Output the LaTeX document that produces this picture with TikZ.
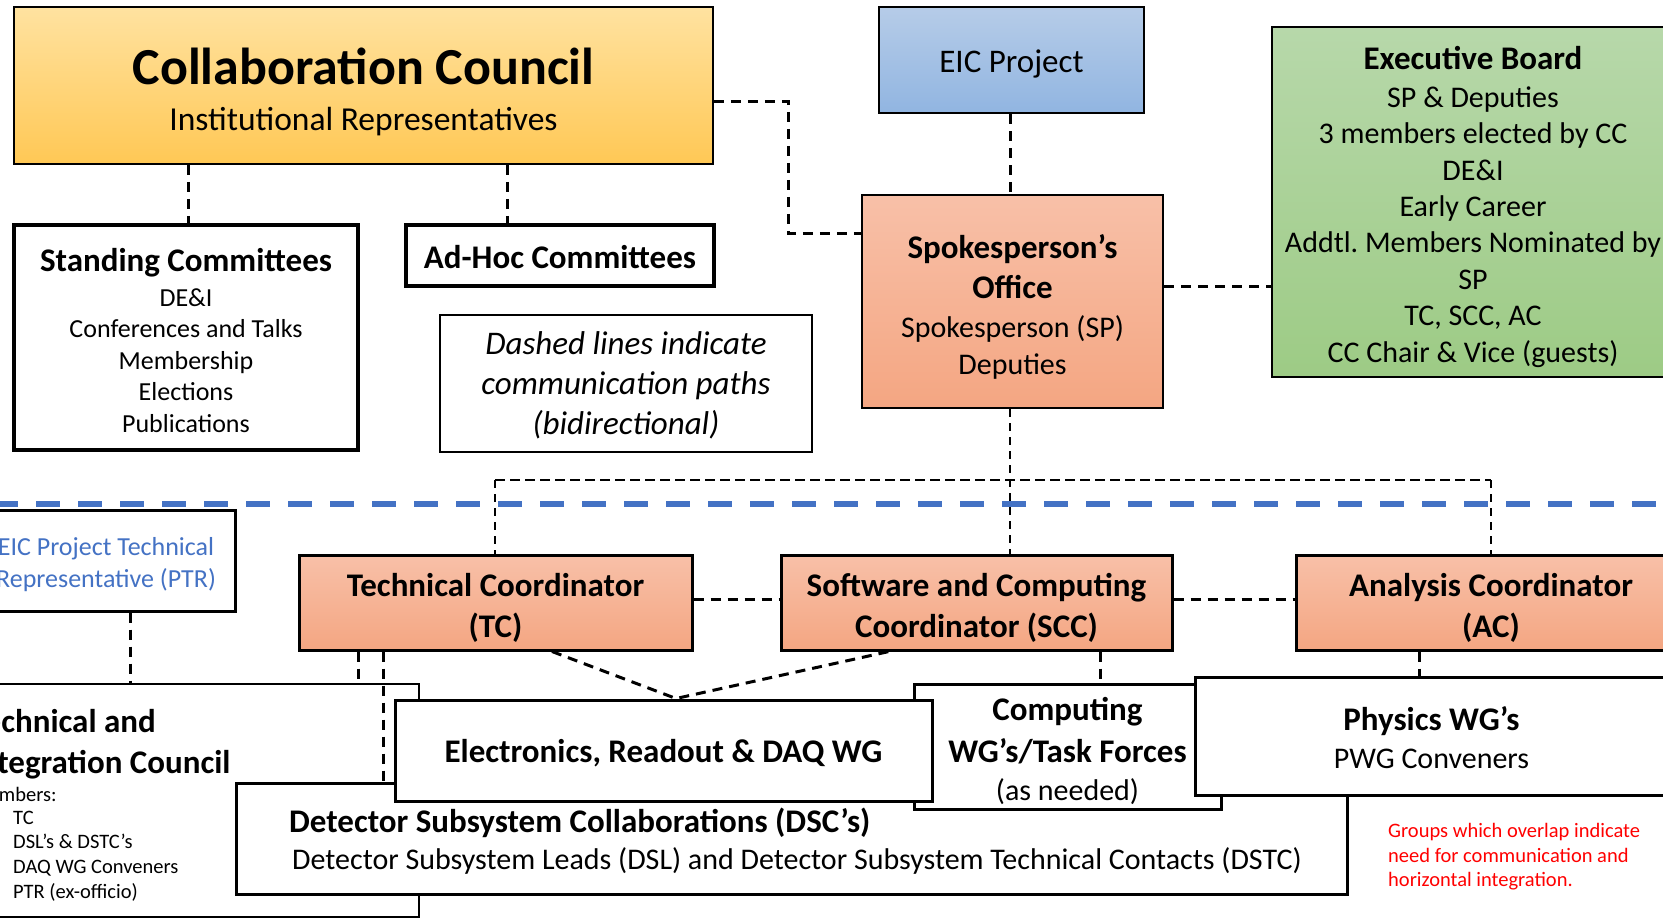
\documentclass[tikz,border=0pt]{standalone}
\usepackage{fontspec}
\setmainfont{Carlito}
\frenchspacing
\usetikzlibrary{calc}
\definecolor{ccTop}{RGB}{255,226,160}
\definecolor{ccBot}{RGB}{255,200,85}
\definecolor{eicTop}{RGB}{182,204,232}
\definecolor{eicBot}{RGB}{145,181,225}
\definecolor{ebTop}{RGB}{183,216,170}
\definecolor{ebBot}{RGB}{157,203,133}
\definecolor{orTop}{RGB}{248,192,168}
\definecolor{orBot}{RGB}{244,166,130}
\definecolor{ptrBlue}{RGB}{68,114,196}
\definecolor{noteRed}{RGB}{255,0,0}
\tikzset{
 box/.style={draw=black, rectangle, inner sep=0pt, line width=3pt},
 conn/.style={black, line width=3pt, dash pattern=on 10pt off 7pt},
 thinconn/.style={black, line width=2.5pt, dash pattern=on 8pt off 6pt},
 bus/.style={black, line width=2.5pt, dash pattern=on 10pt off 5pt},
 bluedash/.style={ptrBlue, line width=6pt, dash pattern=on 24pt off 18pt, dash phase=6pt},
 boldtt/.style={font=\fontsize{33}{41}\selectfont\bfseries},
 txt/.style={inner sep=0pt, align=center},
}
\begin{document}
\begin{tikzpicture}[x=1pt,y=-1pt]
\useasboundingbox (0,0) rectangle (1663,919);
\clip (0,0) rectangle (1663,919);

% upper part
\node[box, line width=1.5pt, top color=ccTop, bottom color=ccBot, minimum width=699pt, minimum height=157pt] (cc) at (363.5,85.5) {};
\node[txt, font=\fontsize{33.5}{46}\selectfont] (cct) at (363.5,91.5) {{\fontsize{52}{46}\selectfont\bfseries Collaboration Council}\\Institutional Representatives};

\node[box, line width=2.5pt, top color=eicTop, bottom color=eicBot, minimum width=265pt, minimum height=106pt] (eic) at (1011.5,60) {};
\node[txt, font=\fontsize{33}{40}\selectfont] (eict) at ([yshift=-4pt]eic.center) {EIC Project};

\node[box, line width=1.5pt, top color=ebTop, bottom color=ebBot, minimum width=402pt, minimum height=350pt] (eb) at (1473,202) {};
\node[txt, font=\fontsize{30}{36.4}\selectfont] (ebt) at ([yshift=-5pt]eb.center) {{\fontsize{33}{36}\selectfont\bfseries Executive Board}\\[1pt]SP \& Deputies\\3 members elected by CC\\DE\&I\\Early Career\\Addtl. Members Nominated by\\SP\\TC, SCC, AC\\CC Chair \& Vice (guests)};

\node[box, line width=2pt, top color=orTop, bottom color=orBot, minimum width=301pt, minimum height=213pt] (so) at (1012.5,301.5) {};
\node[txt, font=\fontsize{30}{37}\selectfont] (sot) at ([yshift=-5pt]so.center) {{\fontsize{33}{40}\selectfont\bfseries Spokesperson’s}\\[3pt]{\fontsize{33}{40}\selectfont\bfseries Office}\\[2pt]Spokesperson (SP)\\Deputies};

\node[box, line width=3.5pt, fill=white, minimum width=344pt, minimum height=225pt] (stand) at (186,337.5) {};
\node[txt, font=\fontsize{26}{31.5}\selectfont] (standt) at ([yshift=-3pt]stand.center) {{\fontsize{33}{36}\selectfont\bfseries Standing Committees}\\[3.5pt]DE\&I\\Conferences and Talks\\Membership\\Elections\\Publications};

\node[box, line width=3.5pt, fill=white, minimum width=308pt, minimum height=61pt] (adhoc) at (560,255.5) {};
\node[txt, boldtt] (adhoct) at ([yshift=-2pt]adhoc.center) {Ad-Hoc Committees};

\node[box, line width=2pt, fill=white, minimum width=372pt, minimum height=137pt] (note) at (626,383.5) {};
\node[txt, font=\fontsize{33}{40}\selectfont\itshape] (notet) at ([yshift=-2pt]note.center) {Dashed lines indicate\\communication paths\\(bidirectional)};

% blue separator
\coordinate (bl) at (0,504);
\coordinate (br) at (1663,504);
\draw[bluedash] (bl) -- (br);

% lower part
\node[box, line width=3pt, fill=white, minimum width=258pt, minimum height=101pt] (ptr) at (106,560.5) {};
\node[txt, text=ptrBlue, font=\fontsize{26}{32}\selectfont] (ptrt) at ([yshift=-4pt]ptr.center) {EIC Project Technical\\Representative (PTR)};

\node[box, top color=orTop, bottom color=orBot, minimum width=393pt, minimum height=95pt] (tc) at (495.5,602.5) {};
\node[txt, boldtt] (tct) at ([yshift=-5pt]tc.center) {Technical Coordinator\\(TC)};
\node[box, top color=orTop, bottom color=orBot, minimum width=391pt, minimum height=95pt] (scc) at (976.5,602.5) {};
\node[txt, boldtt] (scct) at ([yshift=-5pt]scc.center) {Software and Computing\\Coordinator (SCC)};
\node[box, top color=orTop, bottom color=orBot, minimum width=390pt, minimum height=95pt] (ac) at (1491,602.5) {};
\node[txt, boldtt] (act) at ([yshift=-5pt]ac.center) {Analysis Coordinator\\(AC)};

\node[box, line width=2.5pt, fill=white, minimum width=479pt, minimum height=233pt] (tic) at (179.5,800.5) {};
\node[txt, anchor=west, align=left, boldtt] (tict) at (-29,744.5) {Technical and\\Integration Council};
\node[txt, anchor=west, font=\fontsize{20.5}{24.7}\selectfont] (ticm) at (-29,794) {Members:};
\node[txt, anchor=west, align=left, font=\fontsize{20.5}{24.7}\selectfont] (tici) at (13,856) {TC\\DSL’s \& DSTC’s\\DAQ WG Conveners\\PTR (ex-officio)};

\node[box, fill=white, minimum width=1111pt, minimum height=111pt] (dsc) at (791.5,838.5) {};
\node[txt, anchor=west, boldtt] (dsct) at (289,823) {Detector Subsystem Collaborations (DSC’s)};
\node[txt, font=\fontsize{30}{36}\selectfont] (dscs) at (797,861) {Detector Subsystem Leads (DSL) and Detector Subsystem Technical Contacts (DSTC)};

\node[box, fill=white, minimum width=307pt, minimum height=125pt] (comp) at (1067.5,746.5) {};
\node[txt, font=\fontsize{30}{38}\selectfont] (compt) at ([yshift=-4pt]comp.center) {{\fontsize{33}{40}\selectfont\bfseries Computing}\\[4pt]{\fontsize{33}{40}\selectfont\bfseries WG’s/Task Forces}\\(as needed)};

\node[box, fill=white, minimum width=537pt, minimum height=101pt] (erd) at (663.5,750.5) {};
\node[txt, boldtt] (erdt) at ([yshift=-3pt]erd.center) {Electronics, Readout \& DAQ WG};

\node[box, fill=white, minimum width=473pt, minimum height=118pt] (phys) at (1431.5,736) {};
\node[txt, font=\fontsize{30}{38}\selectfont] (physt) at ([yshift=-2pt]phys.center) {{\fontsize{33}{38}\selectfont\bfseries Physics WG’s}\\PWG Conveners};

\node[txt, anchor=west, align=left, text=noteRed, font=\fontsize{20.5}{24.5}\selectfont] (red) at (1388,857) {Groups which overlap indicate\\need for communication and\\horizontal integration.};

% connectors
\coordinate (x1) at (188,0);
\coordinate (x2) at (507,0);
\coordinate (x3) at (788,0);
\coordinate (y3) at (0,101);
\coordinate (y3b) at (0,233);
\coordinate (x4) at (1010,0);
\coordinate (y5) at (0,286);
\coordinate (ybus) at (0,480);
\coordinate (xtc) at (495,0);
\coordinate (xac) at (1491,0);
\coordinate (y6) at (0,599);
\coordinate (xd1) at (552,0);
\coordinate (xd0) at (676,0);
\coordinate (xd2) at (889,0);
\coordinate (x7) at (358,0);
\coordinate (x8) at (383,0);
\coordinate (x9) at (130,0);
\coordinate (x10) at (1100,0);
\coordinate (x11) at (1419,0);

\draw[conn] (cc.south -| x1) -- (stand.north -| x1);
\draw[conn] (cc.south -| x2) -- (adhoc.north -| x2);
\draw[conn] (cc.east |- y3) -| (x3 |- y3b) -- (so.west |- y3b);
\draw[conn] (eic.south -| x4) -- (so.north -| x4);
\draw[conn] (so.east |- y5) -- (eb.west |- y5);
\draw[thinconn] (so.south -| x4) -- (scc.north -| x4);
\draw[bus] (xtc |- ybus) -- (xac |- ybus);
\draw[thinconn] (xtc |- ybus) -- (tc.north -| xtc);
\draw[thinconn] (xac |- ybus) -- (ac.north -| xac);
\draw[conn] (tc.east |- y6) -- (scc.west |- y6);
\draw[conn] (scc.east |- y6) -- (ac.west |- y6);
\draw[conn] (tc.south -| xd1) -- (erd.north -| xd0) -- (scc.south -| xd2);
\draw[conn] (tc.south -| x7) -- (tic.north -| x7);
\draw[conn] (tc.south -| x8) -- (dsc.north -| x8);
\draw[conn] (ptr.south -| x9) -- (tic.north -| x9);
\draw[conn] (scc.south -| x10) -- (comp.north -| x10);
\draw[conn] (ac.south -| x11) -- (phys.north -| x11);
\end{tikzpicture}
\end{document}
